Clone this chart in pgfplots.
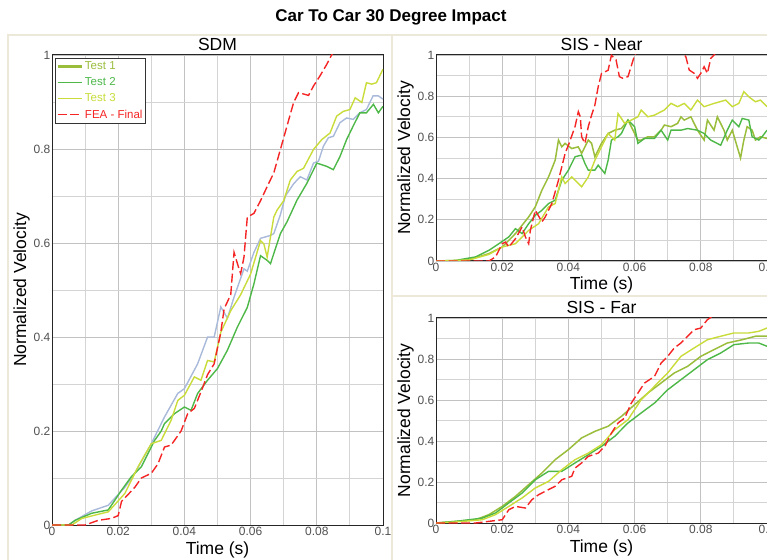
\documentclass[border=0pt]{standalone}
\usepackage{fontspec}
\setmainfont{Liberation Sans}
\usepackage{pgfplots}
\pgfplotsset{compat=1.18}
\definecolor{cT1}{HTML}{9ABD3C}
\definecolor{cT2}{HTML}{4DB848}
\definecolor{cT3}{HTML}{C9DC3A}
\definecolor{cFEA}{HTML}{F52525}
\definecolor{cBlue}{HTML}{A9B9DA}
\definecolor{panel}{HTML}{ECE9D8}
\definecolor{tickc}{HTML}{505050}
\pgfplotsset{
  myaxis/.style={
    scale only axis, width=331pt,
    xmin=0, xmax=0.1, ymin=0, ymax=1,
    xtick={0,0.02,0.04,0.06,0.08,0.1},
    xticklabels={0,0.02,0.04,0.06,0.08,0.1},
    minor xtick={0.01,0.03,0.05,0.07,0.09},
    ytick={0,0.2,0.4,0.6,0.8,1},
    yticklabels={0,0.2,0.4,0.6,0.8,1},
    minor ytick={0.1,0.3,0.5,0.7,0.9},
    grid=both,
    major grid style={draw=black!24, line width=0.9pt},
    minor grid style={draw=black!17, line width=0.9pt},
    axis line style={draw=black!85, line width=1pt},
    major tick length=0pt, minor tick length=0pt,
    ticklabel style={font=\fontsize{12}{14}\selectfont, text=tickc},
    xticklabel style={inner sep=1.5pt},
    yticklabel style={inner sep=1.5pt},
    title style={at={(axis description cs:0.5,1)}, anchor=base, inner sep=0pt, yshift=-2pt, font=\fontsize{17.5}{20}\selectfont},
    xlabel style={at={(axis description cs:0.5,0)}, anchor=base, inner sep=0pt, yshift=-29pt, font=\fontsize{17.5}{20}\selectfont},
    ylabel style={at={(axis description cs:-0.0785,0.5)}, anchor=base, inner sep=0pt, font=\fontsize{17.5}{20}\selectfont},
    xlabel={Time (s)}, ylabel={Normalized Velocity},
  },
  t1/.style={cT1, line width=1.5pt},
  t1leg/.style={cT1, line width=2.6pt},
  t2/.style={cT2, line width=1.4pt},
  t3/.style={cT3, line width=1.4pt},
  tb/.style={cBlue, line width=1.4pt},
  fea/.style={cFEA, line width=1.4pt, dash pattern=on 9pt off 3.5pt},
}
\begin{document}
\begin{tikzpicture}
\path[use as bounding box] (0pt,0pt) rectangle (767pt,559pt);
% panel frames
\draw[panel, line width=1.2pt] (8pt,-2pt) -- (8pt,524pt) -- (769pt,524pt);
\draw[panel, line width=1.2pt] (392pt,-2pt) -- (392pt,524pt);
\draw[panel, line width=1.2pt] (392pt,263pt) -- (769pt,263pt);
\node[font=\fontsize{17}{20}\selectfont\bfseries, anchor=base] at (391pt,537pt) {Car To Car 30 Degree Impact};

% ---------------- SDM ----------------
\begin{axis}[myaxis, height=470pt, at={(52pt,34pt)}, anchor=south west,
  title={SDM},
  legend style={at={(axis description cs:0.009,0.994)}, anchor=north west,
    draw=black!80, line width=0.8pt, fill=white,
    font=\fontsize{11.5}{13}\selectfont, inner xsep=1pt, inner ysep=1.5pt,
    row sep=2.5pt, cells={anchor=west}},
  legend image code/.code={\draw[#1] (0pt,0pt) -- (24pt,0pt);},
]
\addlegendimage{t1leg}\addlegendentry{\textcolor{cT1}{Test 1}}
\addlegendimage{t2}\addlegendentry{\textcolor{cT2}{Test 2}}
\addlegendimage{t3}\addlegendentry{\textcolor{cT3}{Test 3}}
\addlegendimage{fea}\addlegendentry{\textcolor{cFEA}{FEA - Final}}
\addplot[tb, forget plot] coordinates {
(0,0) (0.005,0) (0.007,0.01) (0.012,0.03) (0.017,0.042) (0.022,0.08) (0.025,0.11)
(0.030,0.173) (0.034,0.23) (0.038,0.28) (0.040,0.29) (0.044,0.343) (0.047,0.40)
(0.049,0.40) (0.051,0.464) (0.053,0.44) (0.055,0.485) (0.058,0.545) (0.059,0.54)
(0.061,0.58) (0.063,0.61) (0.066,0.616) (0.067,0.62) (0.069,0.66) (0.0705,0.70)
(0.073,0.726) (0.075,0.741) (0.077,0.734) (0.079,0.77) (0.0805,0.774) (0.082,0.806)
(0.0835,0.824) (0.085,0.827) (0.087,0.856) (0.089,0.866) (0.091,0.863) (0.093,0.877)
(0.095,0.884) (0.097,0.913) (0.0986,0.913) (0.1,0.906)};
\addplot[t2, forget plot] coordinates {
(0,0) (0.005,0) (0.007,0.01) (0.012,0.025) (0.017,0.032) (0.021,0.074) (0.024,0.103)
(0.027,0.124) (0.031,0.18) (0.033,0.20) (0.034,0.216) (0.037,0.237) (0.040,0.251)
(0.042,0.244) (0.044,0.28) (0.047,0.308) (0.050,0.333) (0.053,0.372) (0.056,0.421)
(0.059,0.463) (0.061,0.513) (0.063,0.573) (0.065,0.563) (0.066,0.556) (0.069,0.62)
(0.071,0.645) (0.074,0.691) (0.077,0.727) (0.080,0.77) (0.083,0.763) (0.085,0.756)
(0.087,0.784) (0.089,0.82) (0.091,0.849) (0.093,0.877) (0.095,0.877) (0.0971,0.895)
(0.0986,0.877) (0.1,0.891)};
\addplot[t3, forget plot] coordinates {
(0,0) (0.006,0) (0.009,0.014) (0.017,0.028) (0.022,0.067) (0.026,0.124) (0.030,0.173)
(0.033,0.18) (0.036,0.223) (0.038,0.265) (0.040,0.276) (0.043,0.315) (0.045,0.308)
(0.047,0.35) (0.049,0.347) (0.051,0.41) (0.054,0.456) (0.057,0.49) (0.060,0.534)
(0.063,0.605) (0.064,0.598) (0.065,0.57) (0.067,0.655) (0.068,0.67) (0.070,0.69)
(0.072,0.734) (0.074,0.752) (0.076,0.759) (0.079,0.799) (0.0815,0.82) (0.084,0.834)
(0.086,0.87) (0.088,0.88) (0.090,0.884) (0.0916,0.909) (0.0936,0.899) (0.095,0.941)
(0.0966,0.938) (0.098,0.941) (0.1,0.97)};
\addplot[fea, forget plot] coordinates {
(0,0) (0.010,0) (0.014,0.01) (0.018,0.014) (0.020,0.02) (0.021,0.05) (0.023,0.065)
(0.025,0.08) (0.027,0.10) (0.030,0.11) (0.032,0.13) (0.034,0.166) (0.036,0.17)
(0.038,0.19) (0.039,0.20) (0.041,0.237) (0.043,0.248) (0.045,0.283) (0.047,0.32)
(0.049,0.343) (0.051,0.41) (0.052,0.46) (0.054,0.49) (0.055,0.58) (0.0565,0.545)
(0.057,0.535) (0.058,0.57) (0.059,0.655) (0.061,0.663) (0.063,0.69) (0.065,0.72)
(0.067,0.749) (0.069,0.799) (0.0704,0.834) (0.073,0.899) (0.0745,0.92) (0.0775,0.914)
(0.079,0.934) (0.081,0.956) (0.083,0.98) (0.0844,0.999) (0.086,1.02)};
\end{axis}

% ---------------- SIS - Near ----------------
\begin{axis}[myaxis, height=206pt, at={(436pt,298pt)}, anchor=south west,
  title={SIS - Near}]
\addplot[t1] coordinates {
(0,0) (0.006,0) (0.011,0.011) (0.016,0.036) (0.020,0.068) (0.024,0.133) (0.028,0.214)
(0.030,0.263) (0.032,0.344) (0.034,0.408) (0.036,0.489) (0.037,0.587) (0.038,0.554)
(0.039,0.571) (0.041,0.546) (0.043,0.554) (0.044,0.522) (0.046,0.587) (0.047,0.571)
(0.048,0.506) (0.050,0.571) (0.052,0.619) (0.054,0.635) (0.056,0.643) (0.058,0.684)
(0.059,0.652) (0.061,0.587) (0.062,0.587) (0.064,0.603) (0.066,0.603) (0.068,0.635)
(0.069,0.66) (0.071,0.652) (0.073,0.668) (0.074,0.70) (0.075,0.684) (0.077,0.70)
(0.079,0.635) (0.081,0.587) (0.082,0.684) (0.084,0.635) (0.085,0.70) (0.087,0.635)
(0.088,0.587) (0.0895,0.635) (0.091,0.554) (0.092,0.50) (0.093,0.587) (0.094,0.652)
(0.0955,0.635) (0.0965,0.587) (0.098,0.603) (0.1,0.595)};
\addplot[t2] coordinates {
(0,0) (0.006,0.003) (0.012,0.02) (0.016,0.052) (0.019,0.084) (0.022,0.117) (0.024,0.157)
(0.026,0.133) (0.028,0.181) (0.030,0.222) (0.032,0.246) (0.034,0.279) (0.036,0.295)
(0.038,0.392) (0.040,0.441) (0.042,0.506) (0.044,0.514) (0.045,0.473) (0.046,0.441)
(0.048,0.441) (0.049,0.465) (0.051,0.425) (0.052,0.489) (0.053,0.587) (0.055,0.603)
(0.056,0.619) (0.058,0.684) (0.060,0.652) (0.061,0.571) (0.063,0.595) (0.066,0.595)
(0.068,0.635) (0.070,0.587) (0.071,0.635) (0.074,0.635) (0.076,0.643) (0.079,0.635)
(0.081,0.619) (0.083,0.587) (0.086,0.562) (0.088,0.635) (0.0895,0.684) (0.0915,0.652)
(0.0925,0.692) (0.0945,0.684) (0.0955,0.603) (0.0975,0.587) (0.0985,0.603) (0.1,0.635)};
\addplot[t3] coordinates {
(0,0) (0.010,0.005) (0.016,0.032) (0.020,0.068) (0.024,0.084) (0.028,0.149) (0.031,0.181)
(0.034,0.263) (0.036,0.279) (0.038,0.408) (0.039,0.376) (0.041,0.408) (0.043,0.376)
(0.044,0.36) (0.046,0.408) (0.048,0.489) (0.050,0.554) (0.052,0.619) (0.054,0.587)
(0.055,0.716) (0.057,0.668) (0.059,0.684) (0.061,0.70) (0.062,0.733) (0.064,0.70)
(0.066,0.708) (0.069,0.733) (0.071,0.765) (0.073,0.749) (0.075,0.765) (0.077,0.733)
(0.079,0.781) (0.081,0.749) (0.084,0.765) (0.0875,0.781) (0.0895,0.749) (0.0915,0.765)
(0.093,0.822) (0.0945,0.797) (0.0965,0.773) (0.098,0.781) (0.1,0.749)};
\addplot[fea] coordinates {
(0,0) (0.016,0) (0.018,0.02) (0.020,0.084) (0.021,0.092) (0.022,0.068) (0.024,0.108)
(0.026,0.165) (0.027,0.117) (0.028,0.084) (0.0285,0.149) (0.030,0.246) (0.032,0.19)
(0.033,0.214) (0.035,0.279) (0.037,0.392) (0.039,0.522) (0.040,0.562) (0.042,0.652)
(0.043,0.725) (0.0436,0.70) (0.044,0.603) (0.045,0.571) (0.046,0.652) (0.047,0.708)
(0.048,0.757) (0.049,0.846) (0.050,0.91) (0.052,0.926) (0.053,0.999) (0.0544,0.976)
(0.0554,0.895) (0.0564,0.887) (0.058,0.895) (0.060,0.999) (0.062,1.05) (0.066,1.08)
(0.070,1.06) (0.074,1.03) (0.0755,0.99) (0.0765,0.927) (0.078,0.911) (0.079,0.887)
(0.080,0.911) (0.081,0.943) (0.082,0.911) (0.083,0.984) (0.084,1.0) (0.086,1.05)};
\end{axis}

% ---------------- SIS - Far ----------------
\begin{axis}[myaxis, height=205pt, at={(436pt,36pt)}, anchor=south west,
  title={SIS - Far}]
\addplot[t1] coordinates {
(0,0) (0.006,0.008) (0.012,0.016) (0.016,0.041) (0.020,0.081) (0.024,0.13) (0.028,0.187)
(0.032,0.244) (0.036,0.309) (0.040,0.358) (0.044,0.415) (0.048,0.447) (0.052,0.472)
(0.056,0.52) (0.060,0.577) (0.064,0.634) (0.068,0.683) (0.072,0.732) (0.076,0.764)
(0.080,0.813) (0.084,0.846) (0.088,0.878) (0.0925,0.894) (0.0965,0.911) (0.1,0.911)};
\addplot[t2] coordinates {
(0,0) (0.006,0.008) (0.014,0.024) (0.018,0.049) (0.022,0.098) (0.026,0.146) (0.030,0.211)
(0.034,0.252) (0.038,0.252) (0.042,0.293) (0.046,0.333) (0.050,0.374) (0.054,0.423)
(0.058,0.488) (0.062,0.537) (0.066,0.585) (0.070,0.65) (0.074,0.699) (0.078,0.748)
(0.082,0.797) (0.086,0.829) (0.090,0.87) (0.0945,0.878) (0.0975,0.878) (0.1,0.862)};
\addplot[t3] coordinates {
(0,0) (0.006,0.005) (0.014,0.016) (0.018,0.041) (0.022,0.081) (0.026,0.122) (0.030,0.171)
(0.034,0.203) (0.038,0.26) (0.042,0.309) (0.046,0.341) (0.050,0.382) (0.054,0.455)
(0.058,0.504) (0.062,0.602) (0.066,0.667) (0.070,0.732) (0.074,0.813) (0.078,0.854)
(0.082,0.894) (0.086,0.911) (0.090,0.927) (0.0945,0.927) (0.0975,0.935) (0.1,0.951)};
\addplot[fea] coordinates {
(0,0) (0.012,0) (0.016,0.008) (0.020,0.016) (0.022,0.065) (0.024,0.081) (0.027,0.073)
(0.029,0.114) (0.031,0.138) (0.034,0.163) (0.036,0.179) (0.038,0.211) (0.041,0.228)
(0.042,0.268) (0.044,0.293) (0.046,0.325) (0.049,0.341) (0.051,0.374) (0.053,0.439)
(0.055,0.488) (0.057,0.512) (0.059,0.585) (0.061,0.634) (0.063,0.683) (0.066,0.715)
(0.068,0.78) (0.070,0.813) (0.072,0.854) (0.074,0.878) (0.076,0.911) (0.078,0.943)
(0.080,0.951) (0.082,0.992) (0.0835,1.008) (0.086,1.04)};
\end{axis}
\end{tikzpicture}
\end{document}
